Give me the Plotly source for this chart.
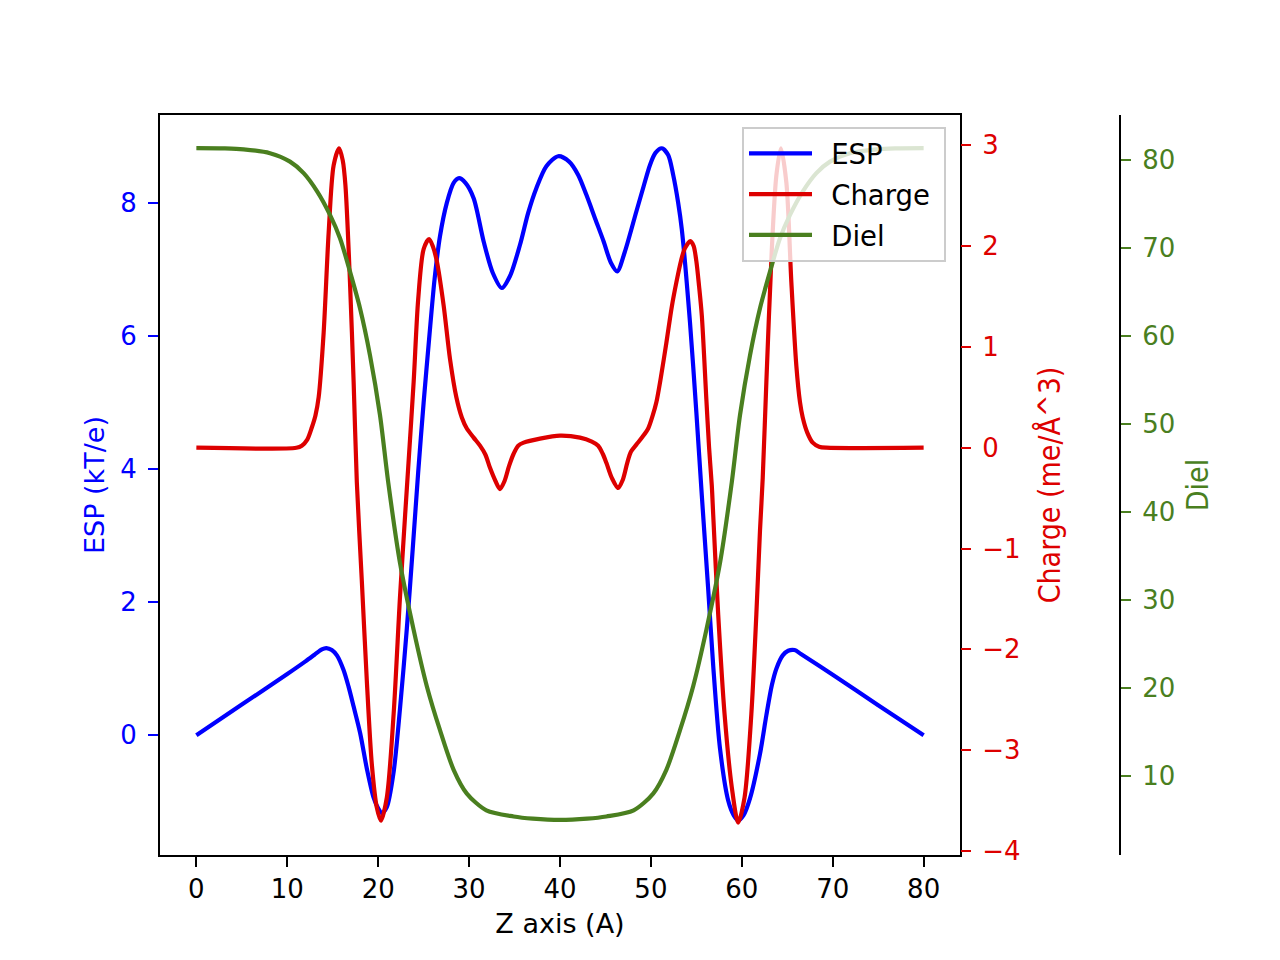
import plotly.graph_objects as go

# ---- data ----
z_esp = [0, 5, 10, 12, 13, 13.8, 14.3, 14.9, 15.46, 16.19, 16.74, 17.3, 18.02, 18.75, 19.48, 20.0, 20.4,
         20.95, 21.7, 22.4, 23.15, 23.8, 24.4, 25.0, 25.6, 26.2, 26.8, 27.55, 28.3, 28.9, 29.6, 30.5,
         31.6, 32.6, 33.6, 34.5, 35.6, 36.5, 37.4, 38.5, 39.8, 41, 42, 42.9, 43.9, 44.8, 45.6, 46.3,
         47.1, 48.4, 49.2, 49.9, 50.5, 51.2, 51.9, 52.45, 53.0, 53.4, 54.3, 55.0, 55.6, 56.3, 56.85,
         57.6, 58.5, 59.1, 59.6, 60.2, 60.9, 62.0, 62.7, 63.3, 63.8, 64.5, 65.1, 65.8, 66.5, 70, 75, 80]
esp = [0, 0.46, 0.92, 1.11, 1.21, 1.29, 1.31, 1.28, 1.2, 0.98, 0.73, 0.43, 0.03, -0.5, -0.93, -1.1,
       -1.17, -1.08, -0.55, 0.4, 1.6, 2.8, 3.95, 5.0, 5.95, 6.85, 7.5, 8.0, 8.3, 8.37, 8.3, 8.07,
       7.42, 6.95, 6.72, 6.9, 7.37, 7.85, 8.22, 8.55, 8.70, 8.62, 8.42, 8.12, 7.75, 7.42, 7.1, 6.97,
       7.25, 7.87, 8.25, 8.57, 8.75, 8.82, 8.72, 8.42, 8.0, 7.6, 6.2, 4.85, 3.6, 2.2, 1.05,
       -0.2, -0.98, -1.2, -1.28, -1.2, -0.95, -0.28, 0.3, 0.75, 1.0, 1.2, 1.27, 1.28, 1.22, 0.91, 0.45, 0]

z_charge = [0, 11, 11.6, 12.2, 12.7, 13.1, 13.45, 14.0, 14.55, 15.1, 15.7, 16.1, 16.4, 16.9, 17.3, 17.65,
            18.2, 18.75, 19.3, 19.85, 20.3, 20.95, 21.7, 22.4, 22.97, 23.3, 23.9, 24.4, 25.0, 25.6, 26.0,
            26.45, 27.2, 27.9, 28.6, 29.2, 29.75, 30.5, 31.2, 31.8, 32.3, 32.9, 33.4, 33.9, 34.4, 34.9,
            35.4, 36.0, 37.8, 40, 42.2, 43.5, 44.2, 44.7, 45.1, 45.7, 46.4, 46.9, 47.4, 47.8, 48.4, 49.1,
            49.7, 50.2, 50.6, 51.1, 51.7, 52.3, 52.8, 53.3, 53.7, 54.35, 54.7, 55.0, 55.3, 55.6, 56.1,
            56.4, 56.7, 56.85, 57.4, 58.1, 58.9, 59.6, 60.3, 61.05, 61.6, 62.0, 62.3, 62.7, 63.3, 63.8,
            64.3, 64.9, 65.45, 66.0, 66.4, 66.7, 67.2, 67.8, 68.5, 69.3, 80]
charge = [0, 0, 0.02, 0.08, 0.2, 0.32, 0.5, 1.14, 2.13, 2.80, 2.97, 2.85, 2.6, 1.64, 0.65, -0.34,
          -1.32, -2.31, -3.14, -3.57, -3.70, -3.47, -2.64, -1.48, -0.66, -0.2, 0.65, 1.47, 1.97, 2.07,
          2.0, 1.85, 1.41, 0.88, 0.5, 0.3, 0.19, 0.1, 0.02, -0.07, -0.2, -0.33, -0.41, -0.33, -0.18,
          -0.06, 0.02, 0.05, 0.09, 0.12, 0.10, 0.06, 0.02, -0.06, -0.15, -0.30, -0.40, -0.32, -0.15,
          -0.04, 0.03, 0.11, 0.19, 0.32, 0.45, 0.7, 1.04, 1.4, 1.64, 1.85, 1.97, 2.05, 2.0, 1.85, 1.6,
          1.31, 0.48, 0.0, -0.38, -0.66, -1.65, -2.64, -3.37, -3.72, -3.47, -2.64, -1.65, -0.82, -0.3,
          0.65, 1.97, 2.70, 2.97, 2.63, 1.64, 0.81, 0.45, 0.3, 0.15, 0.05, 0.01, 0, 0]

z_diel = [0, 3, 5.2, 8.1, 10.3, 11.8, 13.3, 14.7, 15.8, 16.9, 18.0, 19.1, 20.2, 21.1, 22.4, 23.9, 25.35,
          26.8, 28.3, 29.75, 31.9, 34.9, 37, 40, 43, 45.1, 48.1, 50.25, 51.7, 53.2, 54.65, 56.1, 57.6,
          58.9, 59.8, 60.9, 62.0, 63.1, 64.2, 65.3, 66.7, 68.2, 69.7, 71.9, 74.8, 77, 80]
diel = [81.33, 81.3, 81.2, 80.76, 79.8, 78.5, 76.4, 73.75, 71.1, 67.3, 63.15, 57.8, 51.0, 43.4, 34.2,
        26.6, 20.2, 15.2, 10.7, 8.0, 6.1, 5.4, 5.15, 5.0, 5.15, 5.4, 6.1, 8.0, 10.7, 15.2, 20.2, 26.6,
        34.2, 43.4, 51.0, 57.8, 63.15, 67.3, 71.1, 73.75, 76.4, 78.5, 79.8, 80.76, 81.2, 81.3, 81.33]

x_ticks = [0, 10, 20, 30, 40, 50, 60, 70, 80]
esp_ticks = [0, 2, 4, 6, 8]
charge_ticks = [-4, -3, -2, -1, 0, 1, 2, 3]
diel_ticks = [10, 20, 30, 40, 50, 60, 70, 80]

BLUE = "#0000ff"
RED = "#dd0000"
GREEN = "#4a7f1f"
FONT = "DejaVu Sans"
LW = 4.2
PAD = "\u00a0\u2009"
TAIL = "\u00a0"

fig = go.Figure()
fig.add_trace(go.Scatter(x=z_esp, y=esp, mode="lines", name=PAD + "ESP" + TAIL, legendgroup="a",
                         line=dict(color=BLUE, width=LW, shape="spline", smoothing=0.8), yaxis="y"))
fig.add_trace(go.Scatter(x=z_charge, y=charge, mode="lines", name=PAD + "Charge" + TAIL, legendgroup="b",
                         line=dict(color=RED, width=LW, shape="spline", smoothing=0.8), yaxis="y2"))
fig.add_trace(go.Scatter(x=z_diel, y=diel, mode="lines", name=PAD + "Diel" + TAIL, legendgroup="c",
                         line=dict(color=GREEN, width=LW, shape="spline", smoothing=0.8), yaxis="y3"))

tick_common = dict(ticks="outside", ticklen=10, tickwidth=2.2, showgrid=False, zeroline=False,
                   automargin=False)

fig.update_layout(
    width=1280, height=960,
    margin=dict(l=0, r=0, t=0, b=0, autoexpand=False),
    paper_bgcolor="white", plot_bgcolor="white",
    font=dict(family=FONT, size=26, color="black"),
    showlegend=True,
    legend=dict(x=946/1280, y=1-127/960, xanchor="right", yanchor="top",
                bgcolor="rgba(255,255,255,0.8)", bordercolor="#cccccc", borderwidth=2,
                font=dict(family=FONT, size=27.5, color="black"),
                itemwidth=63, tracegroupgap=2),
    xaxis=dict(domain=[160/1280, 960/1280], range=[-4, 84], tickvals=x_ticks,
               showline=True, linecolor="black", linewidth=2.2, mirror=True,
               tickcolor="black", tickfont=dict(size=26, color="black"), ticklabelstandoff=0,
               title=dict(text="Z axis (A)", font=dict(size=27, color="black"), standoff=11),
               **tick_common),
    yaxis=dict(domain=[1-855/960, 1-115/960], range=[-1.80, 9.32], tickvals=esp_ticks,
               showline=True, linecolor="black", linewidth=2.2, mirror=True,
               tickcolor=BLUE, tickfont=dict(size=26, color=BLUE), ticklabelstandoff=6,
               title=dict(text="ESP (kT/e)", font=dict(size=27, color=BLUE), standoff=8),
               **tick_common),
    yaxis2=dict(range=[-4.04, 3.30], tickvals=charge_ticks, overlaying="y", side="right",
                anchor="x", showline=False,
                tickcolor=RED, tickfont=dict(size=26, color=RED), ticklabelstandoff=6,
                title=dict(text="Charge (me/Å^3)",
                           font=dict(family="DejaVu Sans Condensed, DejaVu Sans", size=30, color=RED),
                           standoff=19),
                **tick_common),
    yaxis3=dict(range=[1.02, 85.1], tickvals=diel_ticks, overlaying="y", side="right",
                anchor="free", position=1120/1280, showline=True, linecolor="black", linewidth=2.2,
                tickcolor=GREEN, tickfont=dict(size=26, color=GREEN), ticklabelstandoff=6,
                title=dict(text="Diel",
                           font=dict(family="DejaVu Sans Condensed, DejaVu Sans", size=30, color=GREEN),
                           standoff=12),
                **tick_common),
)

fig.write_html("out.html")
